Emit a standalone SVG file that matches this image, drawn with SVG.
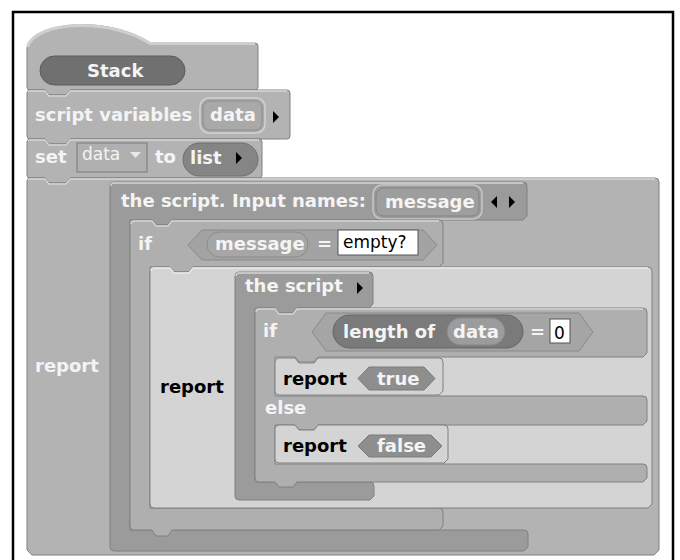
<svg xmlns="http://www.w3.org/2000/svg" width="680" height="560" viewBox="0 0 680 560">
<style>
.t{font-family:"DejaVu Sans","Liberation Sans",sans-serif;font-weight:bold;font-size:18px;fill:#f4f4f4}
.k{fill:#000}
.n{font-weight:normal}
.blk{stroke:#808080;stroke-width:1}
.hl{fill:none;stroke:#d6d6d6;stroke-width:1.3}
.c1{fill:#b3b3b3}
.ring{fill:#9b9b9b}
.ctl{fill:#afafaf}
.zeb{fill:#d4d4d4}
.slot{stroke:#8a8a8a;stroke-width:1}
.box{fill:#fff;stroke:#555;stroke-width:1}
.arr{fill:#000}
</style>
<rect width="680" height="560" fill="#fff"/>
<path d="M13,560 V12 H673 V560" fill="none" stroke="#000" stroke-width="2.5"/>
<g id="connectors"/>

<g id="hat-stack">
<path class="c1 blk" d="M27,48 C35,20 110,16 150,43 L255,43 Q258,43 258,46 L258,87 Q258,90 255,90 L70,90 L66,95 L49,95 L45,90 L30,90 Q27,90 27,87 Z"/>
<path d="M27.5,47 C35,21 110,17 150,43.5 L255,43.5" fill="none" stroke="#cfcfcf" stroke-width="3"/>
<rect x="40" y="56" width="145" height="29" rx="14.5" fill="#707070" stroke="#5c5c5c"/>
<text class="t" x="87" y="77">Stack</text>
</g>

<g id="script-variables">
<path class="c1 blk" d="M27,93 Q27,90 30,90 L45,90 L49,95 L66,95 L70,90 L287,90 Q290,90 290,93 L290,136 Q290,139 287,139 L70,139 L66,144 L49,144 L45,139 L30,139 Q27,139 27,136 Z"/>
<path class="hl" d="M28,92 Q28,91 30,91 L45,91 L49,96 L66,96 L70,91 L287,91"/>
<text class="t" x="35" y="121">script variables</text>
<rect x="200" y="98" width="65" height="35" rx="9" fill="#a9a9a9" stroke="#d4d4d4" stroke-width="1.5"/>
<rect x="203" y="101" width="59" height="29" rx="7" fill="none" stroke="#8c8c8c" stroke-width="1"/>
<text class="t" x="210" y="121">data</text>
<polygon class="arr" points="273,111 279,117 273,123"/>
</g>

<g id="set-block">
<path class="c1 blk" d="M27,142 Q27,139 30,139 L45,139 L49,144 L66,144 L70,139 L259,139 Q262,139 262,142 L262,175 Q262,178 259,178 L70,178 L66,183 L49,183 L45,178 L30,178 Q27,178 27,175 Z"/>
<path class="hl" d="M28,141 Q28,140 30,140 L45,140 L49,145 L66,145 L70,140 L259,140"/>
<text class="t" x="35" y="163">set</text>
<rect x="77" y="143" width="70" height="29" fill="#b0b0b0" stroke="#7a7a7a"/>
<text class="t n" x="82" y="160" style="font-size:17px">data</text>
<polygon points="130,152 141,152 135.5,158" fill="#e8e8e8"/>
<text class="t" x="155" y="163">to</text>
<rect x="183" y="143" width="75" height="33" rx="16.5" fill="#858585" stroke="#6e6e6e"/>
<text class="t" x="190" y="164">list</text>
<polygon class="arr" points="236,152 242,158 236,164"/>
</g>

<g id="report-outer">
<path class="c1 blk" d="M27,181 Q27,178 30,178 L45,178 L49,183 L66,183 L70,178 L655,178 Q659,178 659,182 L659,550 L654,555 L32,555 L27,550 Z"/>
<path class="hl" d="M28,180 Q28,179 30,179 L45,179 L49,184 L66,184 L70,179 L655,179"/>
<text class="t" x="35" y="372">report</text>
</g>

<g id="ring-outer">
<path class="ring blk" d="M110,186 Q110,182 114,182 L523,182 Q527,182 527,186 L527,216 L523,220 L172,220 L168,225 L156,225 L152,220 L130,220 L130,530 L524,530 Q528,530 528,534 L528,547 L524,551 L114,551 Q110,551 110,547 Z"/>
<path class="hl" d="M111,186 Q111,183 114,183 L523,183"/>
<text class="t" x="121" y="207">the script. Input names:</text>
<rect x="373" y="185" width="109" height="34" rx="9" fill="#9e9e9e" stroke="#c8c8c8" stroke-width="1.5"/>
<rect x="376" y="188" width="103" height="28" rx="7" fill="none" stroke="#848484" stroke-width="1"/>
<text class="t" x="385" y="208">message</text>
<polygon class="arr" points="497,196 491,202 497,208"/>
<polygon class="arr" points="509,196 515,202 509,208"/>
</g>

<g id="if-outer">
<path class="ctl blk" d="M130,224 Q130,220 134,220 L152,220 L156,225 L168,225 L172,220 L439,220 Q443,220 443,224 L443,263 L439,267 L193,267 L189,272 L174,272 L170,267 L150,267 L150,508 L439,508 Q443,508 443,512 L443,526 L439,530 L172,530 L168,536 L156,536 L152,530 L134,530 Q130,530 130,526 Z"/>
<path class="hl" d="M131,224 Q131,221 134,221 L152,221 L156,226 L168,226 L172,221 L439,221"/>
<text class="t" x="138" y="250">if</text>
<polygon points="188,245 202,230 423,230 437,245 423,260 202,260" fill="#a3a3a3" class="slot"/>
<rect x="207" y="232" width="101" height="25" rx="12.5" fill="#a6a6a6" stroke="#8c8c8c"/>
<text class="t" x="215" y="250">message</text>
<text class="t" x="317" y="250">=</text>
<rect class="box" x="338" y="230" width="80" height="25"/>
<text class="t n k" x="343" y="248" style="font-size:17px">empty?</text>
</g>

<g id="report-inner">
<path class="zeb blk" d="M150,271 Q150,267 154,267 L170,267 L174,272 L189,272 L193,267 L648,267 Q652,267 652,271 L652,504 L648,508 L154,508 Q150,508 150,504 Z"/>
<path d="M151,271 Q151,268 154,268 L170,268 L174,273 L189,273 L193,268 L648,268" fill="none" stroke="#ececec" stroke-width="1.3"/>
<text class="t k" x="160" y="393">report</text>
</g>

<g id="ring-inner">
<path class="ring blk" d="M235,276 Q235,272 239,272 L369,272 Q373,272 373,276 L373,304 L369,308 L297,308 L293,313 L279,313 L275,308 L255,308 L255,482 L370,482 Q374,482 374,486 L374,496 L370,500 L239,500 Q235,500 235,496 Z"/>
<path class="hl" d="M236,276 Q236,273 239,273 L369,273"/>
<text class="t" x="245" y="292">the script</text>
<polygon class="arr" points="357,282 363,288 357,294"/>
</g>

<g id="if-else-inner">
<path class="ctl blk" d="M255,312 Q255,308 259,308 L275,308 L279,313 L293,313 L297,308 L643,308 Q647,308 647,312 L647,353 L643,357 L318,357 L314,362 L299,362 L295,357 L275,357 L275,396 L643,396 Q647,396 647,400 L647,421 L643,425 L318,425 L314,430 L299,430 L295,425 L275,425 L275,464 L643,464 Q647,464 647,468 L647,478 L643,482 L297,482 L293,487 L279,487 L275,482 L259,482 Q255,482 255,478 Z"/>
<path class="hl" d="M256,312 Q256,309 259,309 L275,309 L279,314 L293,314 L297,309 L643,309"/>
<text class="t" x="263" y="337">if</text>
<polygon points="312,332 326,313 579,313 593,332 579,351 326,351" fill="#a5a5a5" class="slot"/>
<rect x="333" y="315" width="190" height="33" rx="16.5" fill="#7a7a7a" stroke="#666"/>
<text class="t" x="343" y="338">length of</text>
<rect x="447" y="318" width="58" height="27" rx="13.5" fill="#9c9c9c" stroke="#888"/>
<text class="t" x="453" y="338">data</text>
<text class="t" x="530" y="338">=</text>
<rect class="box" x="550" y="319" width="20" height="24"/>
<text class="t n k" x="554" y="339" style="font-size:17px">0</text>
<text class="t" x="265" y="414">else</text>
</g>

<g id="report-true">
<path class="zeb blk" d="M275,362 Q275,358 279,358 L295,358 L299,363 L314,363 L318,358 L439,358 Q443,358 443,362 L443,391 L439,395 L279,395 Q275,395 275,391 Z"/>
<text class="t k" x="283" y="385">report</text>
<polygon points="358,378.5 369,367 424,367 435,378.5 424,390 369,390" fill="#8e8e8e" stroke="#7a7a7a"/>
<text class="t" x="377" y="385">true</text>
</g>

<g id="report-false">
<path class="zeb blk" d="M275,429 Q275,425 279,425 L295,425 L299,430 L314,430 L318,425 L444,425 Q448,425 448,429 L448,459 L444,463 L279,463 Q275,463 275,459 Z"/>
<text class="t k" x="283" y="452">report</text>
<polygon points="358,446 369,435 431,435 442,446 431,457 369,457" fill="#8e8e8e" stroke="#7a7a7a"/>
<text class="t" x="377" y="452">false</text>
</g>
</svg>
